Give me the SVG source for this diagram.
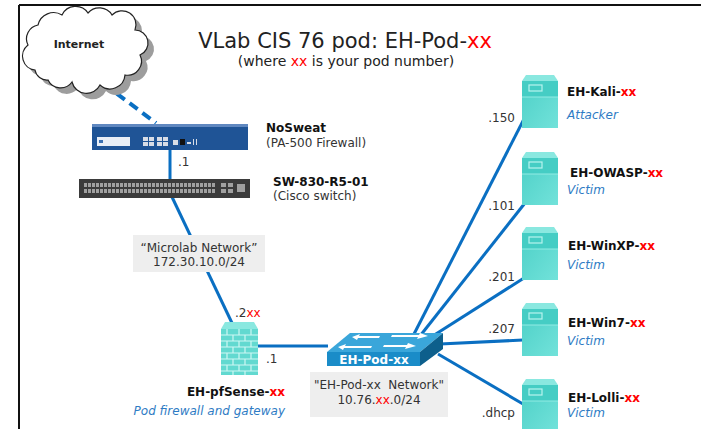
<svg xmlns="http://www.w3.org/2000/svg" width="701" height="429" viewBox="0 0 701 429">
  <defs>
    <style>
      text { font-family: "DejaVu Sans", Verdana, sans-serif; }
      .title { font-size: 21px; fill: #222; }
      .sub { font-size: 14px; fill: #222; }
      .red { fill: #ff0000; }
      .name { font-size: 12px; font-weight: bold; fill: #111; }
      .role { font-size: 12px; font-style: italic; fill: #2e7bc4; }
      .ip { font-size: 12px; fill: #333; }
      .net { font-size: 12px; fill: #333; }
      .link { stroke: #0a6fc2; stroke-width: 3; fill: none; }
      .brick { stroke: #cdf7f3; stroke-width: 1.2; fill: none; }
      .arrow { fill: #ffffff; }
    </style>
    <linearGradient id="srvBody" x1="0" y1="0" x2="1" y2="1">
      <stop offset="0" stop-color="#4dd0c7"/>
      <stop offset="1" stop-color="#72e2da"/>
    </linearGradient>
    <pattern id="ports" x="84" y="182" width="4" height="13" patternUnits="userSpaceOnUse">
      <rect x="0" y="1" width="3" height="4" fill="#a0a0a0"/>
      <rect x="0" y="7" width="3" height="4" fill="#a0a0a0"/>
    </pattern>
    <symbol id="server" viewBox="0 0 36 53" width="36" height="53" overflow="visible">
      <polygon points="4,0 32,0 36,6 0,6" fill="#8ae8e0"/>
      <rect x="0" y="6" width="36" height="47" fill="url(#srvBody)"/>
      <rect x="0" y="6" width="36" height="16" fill="#45cdc4"/>
      <line x1="0" y1="22" x2="36" y2="22" stroke="#92ebe4" stroke-width="1"/>
      <rect x="7" y="10" width="13" height="6" fill="none" stroke="#b8f4ef" stroke-width="1.2"/>
    </symbol>
  </defs>

  <!-- page frame -->
  <g id="frame" stroke="#111" stroke-width="2" fill="none">
    <line x1="19" y1="5" x2="701" y2="5"/>
    <line x1="19" y1="5" x2="19" y2="429"/>
  </g>

  <!-- heading -->
  <text class="title" x="345" y="48" text-anchor="middle">VLab CIS 76 pod: EH-Pod-<tspan class="red">xx</tspan></text>
  <text class="sub" x="346" y="66" text-anchor="middle">(where <tspan class="red">xx</tspan> is your pod number)</text>

  <!-- connectors -->
  <g id="connectors">
    <line x1="104" y1="84" x2="156" y2="123" stroke="#0a6fc2" stroke-width="4" stroke-dasharray="10,6"/>
    <line class="link" x1="170" y1="150" x2="170" y2="180"/>
    <line class="link" x1="172" y1="197" x2="232" y2="323"/>
    <line class="link" x1="258" y1="346" x2="328" y2="346"/>
    <line class="link" x1="413" y1="336" x2="524" y2="119"/>
    <line class="link" x1="420" y1="336" x2="525" y2="203"/>
    <line class="link" x1="428" y1="339" x2="524" y2="278"/>
    <line class="link" x1="440" y1="344" x2="523" y2="340"/>
    <line class="link" x1="438" y1="354" x2="523" y2="404"/>
  </g>

  <!-- Internet cloud -->
  <g id="internet">
    <path transform="translate(6,6)" fill="#9d9d9d" d="M35,70 A14,14 0 0 1 28,45 A14,14 0 0 1 38,25 A16,16 0 0 1 62,15 A15,15 0 0 1 88,13 A15,15 0 0 1 112,15 A14,14 0 0 1 135,30 A13,13 0 0 1 140,55 A14,14 0 0 1 125,75 A15,15 0 0 1 100,85 A15,15 0 0 1 72,82 A14,14 0 0 1 48,80 A12,12 0 0 1 35,70 Z"/>
    <path fill="#ffffff" stroke="#222" stroke-width="1.2" d="M35,70 A14,14 0 0 1 28,45 A14,14 0 0 1 38,25 A16,16 0 0 1 62,15 A15,15 0 0 1 88,13 A15,15 0 0 1 112,15 A14,14 0 0 1 135,30 A13,13 0 0 1 140,55 A14,14 0 0 1 125,75 A15,15 0 0 1 100,85 A15,15 0 0 1 72,82 A14,14 0 0 1 48,80 A12,12 0 0 1 35,70 Z"/>
    <text x="79" y="48" text-anchor="middle" font-size="11" font-weight="bold" fill="#222">Internet</text>
  </g>

  <!-- PA-500 firewall -->
  <g id="nosweat">
    <rect x="92" y="124" width="156" height="26" fill="#1f5496"/>
    <rect x="92" y="124" width="156" height="3" fill="#6088c0"/>
    <rect x="97" y="137" width="33" height="9" fill="#e8eef6"/>
    <rect x="99" y="140" width="4" height="3" fill="#3a6fb0"/>
    <g fill="#d8dde6">
      <rect x="143" y="137" width="5" height="4"/><rect x="149" y="137" width="5" height="4"/>
      <rect x="143" y="142" width="5" height="4"/><rect x="149" y="142" width="5" height="4"/>
      <rect x="157" y="137" width="5" height="4"/><rect x="163" y="137" width="5" height="4"/>
      <rect x="157" y="142" width="5" height="4"/><rect x="163" y="142" width="5" height="4"/>
      <rect x="173" y="140" width="5" height="5"/>
      <rect x="187" y="142" width="4" height="2"/>
      <rect x="193" y="139" width="1" height="6"/><rect x="196" y="139" width="1" height="6"/>
    </g>
    <rect x="180" y="139" width="5" height="6" fill="#111"/>
    <text class="name" x="266" y="132">NoSweat</text>
    <text class="ip" x="266" y="147">(PA-500 Firewall)</text>
  </g>

  <!-- Cisco switch -->
  <g id="sw830">
    <rect x="79" y="179" width="171" height="19" fill="#3b3b3b"/>
    <rect x="84" y="182" width="132" height="13" fill="url(#ports)"/>
    <g fill="#a0a0a0">
      <rect x="221" y="183" width="5" height="4"/><rect x="228" y="183" width="5" height="4"/>
      <rect x="221" y="189" width="5" height="4"/><rect x="228" y="189" width="5" height="4"/>
      <rect x="237" y="184" width="8" height="8"/>
    </g>
    <text class="ip" x="178" y="166">.1</text>
    <text class="name" x="273" y="186">SW-830-R5-01</text>
    <text class="ip" x="273" y="200">(Cisco switch)</text>
  </g>

  <!-- Microlab network label -->
  <g id="microlab">
    <rect x="133" y="235" width="132" height="37" fill="#eeeeee"/>
    <text class="net" x="199" y="252" text-anchor="middle">“Microlab Network”</text>
    <text class="net" x="199" y="266" text-anchor="middle">172.30.10.0/24</text>
  </g>

  <!-- pfSense firewall -->
  <g id="pfsense">
    <polygon points="225,322 254,322 258,329 221,329" fill="#8ae8e0"/>
    <rect x="221" y="329" width="37" height="46" fill="#62d9d0"/>
    <path class="brick" d="M221,335H258M221,341H258M221,347H258M221,353H258M221,359H258M221,365H258M221,371H258
      M227,329V335M239,329V335M251,329V335
      M233,335V341M245,335V341
      M227,341V347M239,341V347M251,341V347
      M233,347V353M245,347V353
      M227,353V359M239,353V359M251,353V359
      M233,359V365M245,359V365
      M227,365V371M239,365V371M251,365V371
      M233,371V375M245,371V375"/>
    <text class="ip" x="235" y="317">.2<tspan class="red">xx</tspan></text>
    <text class="ip" x="266" y="363">.1</text>
    <text class="name" x="285" y="396" text-anchor="end">EH-pfSense-<tspan class="red">xx</tspan></text>
    <text class="role" x="285" y="415" text-anchor="end">Pod firewall and gateway</text>
  </g>

  <!-- EH-Pod-xx switch -->
  <g id="podswitch">
    <polygon points="327,352 350,333 443,333 420,352" fill="#3aa6da"/>
    <rect x="327" y="352" width="93" height="14" fill="#1a8cc8"/>
    <polygon points="420,352 443,333 443,349 420,366" fill="#0d5f8c"/>
    <polygon class="arrow" points="352,337 360,334 359,336 380,336 379,338 358,338 357,340"/>
    <polygon class="arrow" points="428,336 420,333 419,335 392,335 391,337 418,337 417,339"/>
    <polygon class="arrow" points="338,347 346,344 345,346 372,346 371,348 344,348 343,350"/>
    <polygon class="arrow" points="416,346 408,343 407,345 384,345 383,347 406,347 405,349"/>
    <text x="374" y="364" text-anchor="middle" font-size="12" font-weight="bold" fill="#ffffff">EH-Pod-xx</text>
  </g>

  <!-- EH-Pod-xx network label -->
  <g id="podnet">
    <rect x="310" y="372" width="138" height="45" fill="#eeeeee"/>
    <text class="net" x="379" y="389" text-anchor="middle" xml:space="preserve">"EH-Pod-xx  Network"</text>
    <text class="net" x="379" y="404" text-anchor="middle">10.76.<tspan class="red">xx</tspan>.0/24</text>
  </g>

  <!-- hosts -->
  <g id="kali">
    <use href="#server" x="522" y="75"/>
    <text class="ip" x="515" y="122" text-anchor="end">.150</text>
    <text class="name" x="567" y="96">EH-Kali-<tspan class="red">xx</tspan></text>
    <text class="role" x="567" y="119">Attacker</text>
  </g>
  <g id="owasp">
    <use href="#server" x="522" y="152"/>
    <text class="ip" x="515" y="210" text-anchor="end">.101</text>
    <text class="name" x="570" y="177">EH-OWASP-<tspan class="red">xx</tspan></text>
    <text class="role" x="567" y="194">Victim</text>
  </g>
  <g id="winxp">
    <use href="#server" x="522" y="227"/>
    <text class="ip" x="515" y="281" text-anchor="end">.201</text>
    <text class="name" x="568" y="250">EH-WinXP-<tspan class="red">xx</tspan></text>
    <text class="role" x="567" y="269">Victim</text>
  </g>
  <g id="win7">
    <use href="#server" x="522" y="303"/>
    <text class="ip" x="515" y="333" text-anchor="end">.207</text>
    <text class="name" x="568" y="327">EH-Win7-<tspan class="red">xx</tspan></text>
    <text class="role" x="567" y="345">Victim</text>
  </g>
  <g id="lolli">
    <use href="#server" x="522" y="379"/>
    <text class="ip" x="515" y="417" text-anchor="end">.dhcp</text>
    <text class="name" x="568" y="402">EH-Lolli-<tspan class="red">xx</tspan></text>
    <text class="role" x="567" y="417">Victim</text>
  </g>
</svg>
